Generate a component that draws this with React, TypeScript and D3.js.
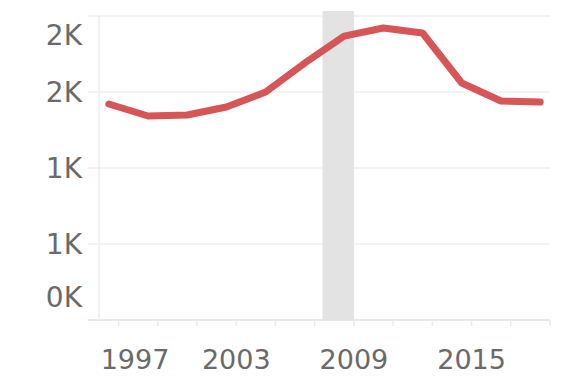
import React from "react";
import * as d3 from "d3";

const years = [1996.5, 1998.5, 2000.5, 2002.5, 2004.5, 2006.5, 2008.5, 2010.5, 2012.5, 2014.5, 2016.5, 2018.5];
const values = [1421, 1342, 1349, 1401, 1500, 1691, 1868, 1921, 1888, 1559, 1441, 1434];
const yTicks = [0, 500, 1000, 1500, 2000];
const xTickMarks = [1997, 1999, 2001, 2003, 2005, 2007, 2009, 2011, 2013, 2015, 2017, 2019];
const xTickLabels = [1997, 2003, 2009, 2015];
const band = [2007.4, 2009.0];

const W = 566;
const H = 377;
const left = 99;
const right = 550;
const top = 16;
const bottom = 320;

export default function App() {
  const x = d3.scaleLinear().domain([1996, 2019]).range([left, right]);
  const y = d3.scaleLinear().domain([0, 2000]).range([bottom, top]);
  const fmt = (v: number) => `${Math.round(v / 1000)}K`;
  const line = d3
    .line<number>()
    .x((_, i) => x(years[i]))
    .y((d) => y(d));
  const font = "'DejaVu Sans', sans-serif";
  return (
    <svg width={W} height={H} style={{ position: "absolute", left: 0, top: 0 }}>
      <rect x={0} y={0} width={W} height={H} fill="#fff" />
      {yTicks.map((t) => (
        <line key={"g" + t} x1={88} x2={right} y1={y(t)} y2={y(t)} stroke={t === 0 ? "#e2e2e2" : "#efefef"} strokeWidth={1.5} />
      ))}
      <rect x={x(band[0])} y={11} width={x(band[1]) - x(band[0])} height={bottom - 11} fill="#e3e3e3" />
      <line x1={left} x2={left} y1={top} y2={bottom} stroke="#ececec" strokeWidth={1.5} />
      {xTickMarks.map((t) => (
        <line key={"t" + t} x1={x(t)} x2={x(t)} y1={bottom} y2={bottom + 6} stroke="#ececec" strokeWidth={1.5} />
      ))}
      <path d={line(values) || ""} fill="none" stroke="#d65557" strokeWidth={7} strokeLinejoin="round" strokeLinecap="round" />
      {yTicks.map((t) => (
        <text
          key={"yl" + t}
          x={82}
          y={Math.min(297, Math.max(35, y(t)))}
          dy="0.36em"
          textAnchor="end"
          fontFamily={font}
          fontSize={28}
          fill="#6a6a6a"
        >
          {fmt(t)}
        </text>
      ))}
      {xTickLabels.map((t) => (
        <text
          key={"xl" + t}
          x={Math.max(135, x(t))}
          y={369}
          textAnchor="middle"
          fontFamily={font}
          fontSize={27}
          fill="#6a6a6a"
        >
          {t}
        </text>
      ))}
    </svg>
  );
}
